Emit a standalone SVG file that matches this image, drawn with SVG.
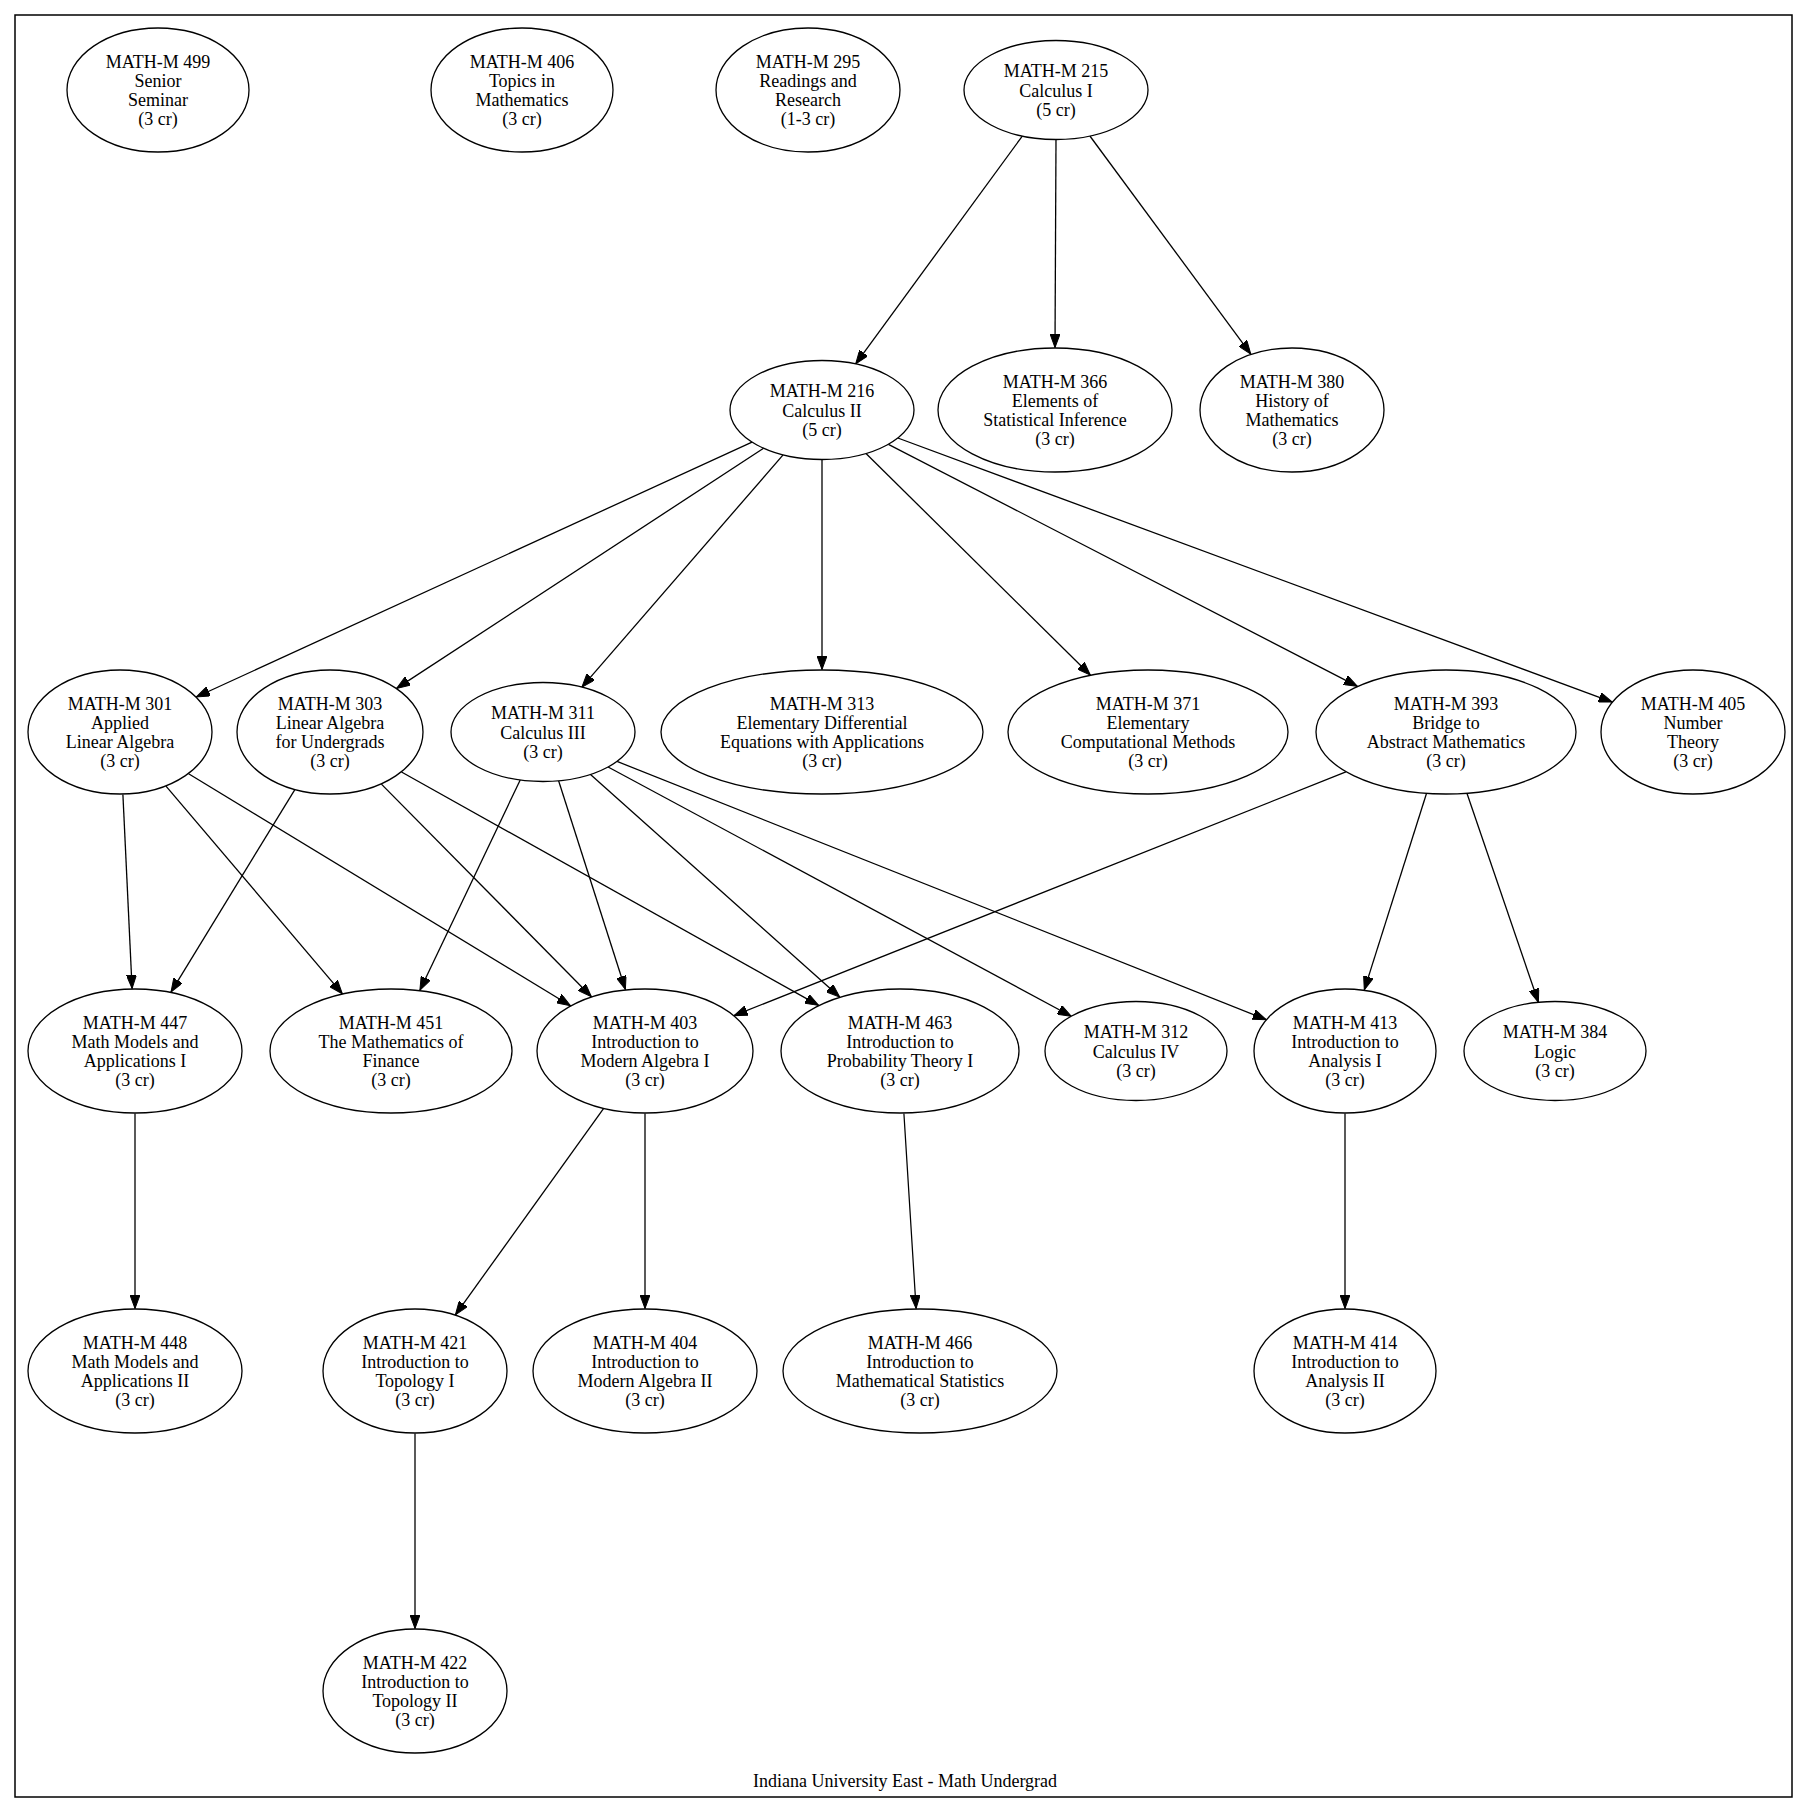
<svg xmlns="http://www.w3.org/2000/svg" width="1812" height="1813" viewBox="0 0 1812 1813">
<style>
.n ellipse{fill:#fff;stroke:#000;stroke-width:1.3}
.n text,.cap{font-family:"Liberation Serif","Times New Roman",serif;font-size:18px;text-anchor:middle;fill:#000}
.e line{stroke:#000;stroke-width:1.3;marker-end:url(#arr)}
</style>
<defs>
<marker id="arr" markerUnits="userSpaceOnUse" viewBox="0 0 14 10" markerWidth="14" markerHeight="10" refX="13.5" refY="5" orient="auto"><path d="M0,0 L13.5,5 L0,10 z" fill="#000" stroke="#000" stroke-width="1"/></marker>
</defs>
<rect width="1812" height="1813" fill="#fff"/>
<rect x="15" y="15" width="1777" height="1782" fill="none" stroke="#000" stroke-width="1.5"/>
<text class="cap" x="905" y="1787">Indiana University East - Math Undergrad</text>
<g class="e" id="edges">
<line x1="1022.3" y1="136.1" x2="855.7" y2="363.9"/>
<line x1="1056" y1="139.5" x2="1055" y2="347.5"/>
<line x1="1089.9" y1="136" x2="1250.8" y2="354.1"/>
<line x1="752" y1="442.1" x2="196.3" y2="697"/>
<line x1="763.6" y1="448.2" x2="396.6" y2="688.4"/>
<line x1="783.1" y1="454.9" x2="581.9" y2="687.1"/>
<line x1="822" y1="459.5" x2="822" y2="669.5"/>
<line x1="866" y1="453.5" x2="1090.3" y2="675"/>
<line x1="888.4" y1="444.3" x2="1357.4" y2="686.3"/>
<line x1="897.8" y1="438" x2="1612.2" y2="702.1"/>
<line x1="122.9" y1="794.5" x2="132.1" y2="988.5"/>
<line x1="166" y1="786.1" x2="342.4" y2="993.8"/>
<line x1="188.6" y1="773.7" x2="570.5" y2="1005.7"/>
<line x1="294.7" y1="789.8" x2="171" y2="992.1"/>
<line x1="381.4" y1="784.1" x2="591.4" y2="996.7"/>
<line x1="401.5" y1="772" x2="818.6" y2="1005.4"/>
<line x1="520.2" y1="780" x2="419.9" y2="990.3"/>
<line x1="558.6" y1="780.8" x2="625.4" y2="989.5"/>
<line x1="590.5" y1="774.4" x2="839.7" y2="997.1"/>
<line x1="608.1" y1="767" x2="1071.3" y2="1016.2"/>
<line x1="617" y1="761.4" x2="1266.3" y2="1019.7"/>
<line x1="1345.9" y1="771.9" x2="734" y2="1015.6"/>
<line x1="1426.4" y1="793.8" x2="1364.3" y2="989.9"/>
<line x1="1467.1" y1="793.7" x2="1538.4" y2="1002.3"/>
<line x1="135" y1="1113.5" x2="135" y2="1308.5"/>
<line x1="603.5" y1="1108.7" x2="455.4" y2="1314.8"/>
<line x1="645" y1="1113.5" x2="645" y2="1308.5"/>
<line x1="903.9" y1="1113.5" x2="916.1" y2="1308.5"/>
<line x1="1345" y1="1113.5" x2="1345" y2="1308.5"/>
<line x1="415" y1="1433.5" x2="415" y2="1628.5"/>
</g>
<g class="n" id="m499"><ellipse cx="158" cy="90" rx="91" ry="62"/><text x="158" y="67.7"><tspan x="158">MATH-M 499</tspan><tspan x="158" dy="19.2">Senior</tspan><tspan x="158" dy="19.2">Seminar</tspan><tspan x="158" dy="19.2">(3 cr)</tspan></text></g>
<g class="n" id="m406"><ellipse cx="522" cy="90" rx="91" ry="62"/><text x="522" y="67.7"><tspan x="522">MATH-M 406</tspan><tspan x="522" dy="19.2">Topics in</tspan><tspan x="522" dy="19.2">Mathematics</tspan><tspan x="522" dy="19.2">(3 cr)</tspan></text></g>
<g class="n" id="m295"><ellipse cx="808" cy="90" rx="92" ry="62"/><text x="808" y="67.7"><tspan x="808">MATH-M 295</tspan><tspan x="808" dy="19.2">Readings and</tspan><tspan x="808" dy="19.2">Research</tspan><tspan x="808" dy="19.2">(1-3 cr)</tspan></text></g>
<g class="n" id="m215"><ellipse cx="1056" cy="90" rx="92" ry="49.5"/><text x="1056" y="77.3"><tspan x="1056">MATH-M 215</tspan><tspan x="1056" dy="19.2">Calculus I</tspan><tspan x="1056" dy="19.2">(5 cr)</tspan></text></g>
<g class="n" id="m216"><ellipse cx="822" cy="410" rx="92" ry="49.5"/><text x="822" y="397.3"><tspan x="822">MATH-M 216</tspan><tspan x="822" dy="19.2">Calculus II</tspan><tspan x="822" dy="19.2">(5 cr)</tspan></text></g>
<g class="n" id="m366"><ellipse cx="1055" cy="410" rx="117" ry="62"/><text x="1055" y="387.7"><tspan x="1055">MATH-M 366</tspan><tspan x="1055" dy="19.2">Elements of</tspan><tspan x="1055" dy="19.2">Statistical Inference</tspan><tspan x="1055" dy="19.2">(3 cr)</tspan></text></g>
<g class="n" id="m380"><ellipse cx="1292" cy="410" rx="92" ry="62"/><text x="1292" y="387.7"><tspan x="1292">MATH-M 380</tspan><tspan x="1292" dy="19.2">History of</tspan><tspan x="1292" dy="19.2">Mathematics</tspan><tspan x="1292" dy="19.2">(3 cr)</tspan></text></g>
<g class="n" id="m301"><ellipse cx="120" cy="732" rx="92" ry="62"/><text x="120" y="709.7"><tspan x="120">MATH-M 301</tspan><tspan x="120" dy="19.2">Applied</tspan><tspan x="120" dy="19.2">Linear Algebra</tspan><tspan x="120" dy="19.2">(3 cr)</tspan></text></g>
<g class="n" id="m303"><ellipse cx="330" cy="732" rx="93" ry="62"/><text x="330" y="709.7"><tspan x="330">MATH-M 303</tspan><tspan x="330" dy="19.2">Linear Algebra</tspan><tspan x="330" dy="19.2">for Undergrads</tspan><tspan x="330" dy="19.2">(3 cr)</tspan></text></g>
<g class="n" id="m311"><ellipse cx="543" cy="732" rx="92" ry="49.5"/><text x="543" y="719.3"><tspan x="543">MATH-M 311</tspan><tspan x="543" dy="19.2">Calculus III</tspan><tspan x="543" dy="19.2">(3 cr)</tspan></text></g>
<g class="n" id="m313"><ellipse cx="822" cy="732" rx="161" ry="62"/><text x="822" y="709.7"><tspan x="822">MATH-M 313</tspan><tspan x="822" dy="19.2">Elementary Differential</tspan><tspan x="822" dy="19.2">Equations with Applications</tspan><tspan x="822" dy="19.2">(3 cr)</tspan></text></g>
<g class="n" id="m371"><ellipse cx="1148" cy="732" rx="140" ry="62"/><text x="1148" y="709.7"><tspan x="1148">MATH-M 371</tspan><tspan x="1148" dy="19.2">Elementary</tspan><tspan x="1148" dy="19.2">Computational Methods</tspan><tspan x="1148" dy="19.2">(3 cr)</tspan></text></g>
<g class="n" id="m393"><ellipse cx="1446" cy="732" rx="130" ry="62"/><text x="1446" y="709.7"><tspan x="1446">MATH-M 393</tspan><tspan x="1446" dy="19.2">Bridge to</tspan><tspan x="1446" dy="19.2">Abstract Mathematics</tspan><tspan x="1446" dy="19.2">(3 cr)</tspan></text></g>
<g class="n" id="m405"><ellipse cx="1693" cy="732" rx="92" ry="62"/><text x="1693" y="709.7"><tspan x="1693">MATH-M 405</tspan><tspan x="1693" dy="19.2">Number</tspan><tspan x="1693" dy="19.2">Theory</tspan><tspan x="1693" dy="19.2">(3 cr)</tspan></text></g>
<g class="n" id="m447"><ellipse cx="135" cy="1051" rx="107" ry="62"/><text x="135" y="1028.7"><tspan x="135">MATH-M 447</tspan><tspan x="135" dy="19.2">Math Models and</tspan><tspan x="135" dy="19.2">Applications I</tspan><tspan x="135" dy="19.2">(3 cr)</tspan></text></g>
<g class="n" id="m451"><ellipse cx="391" cy="1051" rx="121" ry="62"/><text x="391" y="1028.7"><tspan x="391">MATH-M 451</tspan><tspan x="391" dy="19.2">The Mathematics of</tspan><tspan x="391" dy="19.2">Finance</tspan><tspan x="391" dy="19.2">(3 cr)</tspan></text></g>
<g class="n" id="m403"><ellipse cx="645" cy="1051" rx="108" ry="62"/><text x="645" y="1028.7"><tspan x="645">MATH-M 403</tspan><tspan x="645" dy="19.2">Introduction to</tspan><tspan x="645" dy="19.2">Modern Algebra I</tspan><tspan x="645" dy="19.2">(3 cr)</tspan></text></g>
<g class="n" id="m463"><ellipse cx="900" cy="1051" rx="119" ry="62"/><text x="900" y="1028.7"><tspan x="900">MATH-M 463</tspan><tspan x="900" dy="19.2">Introduction to</tspan><tspan x="900" dy="19.2">Probability Theory I</tspan><tspan x="900" dy="19.2">(3 cr)</tspan></text></g>
<g class="n" id="m312"><ellipse cx="1136" cy="1051" rx="91" ry="49.5"/><text x="1136" y="1038.3"><tspan x="1136">MATH-M 312</tspan><tspan x="1136" dy="19.2">Calculus IV</tspan><tspan x="1136" dy="19.2">(3 cr)</tspan></text></g>
<g class="n" id="m413"><ellipse cx="1345" cy="1051" rx="91" ry="62"/><text x="1345" y="1028.7"><tspan x="1345">MATH-M 413</tspan><tspan x="1345" dy="19.2">Introduction to</tspan><tspan x="1345" dy="19.2">Analysis I</tspan><tspan x="1345" dy="19.2">(3 cr)</tspan></text></g>
<g class="n" id="m384"><ellipse cx="1555" cy="1051" rx="91" ry="49.5"/><text x="1555" y="1038.3"><tspan x="1555">MATH-M 384</tspan><tspan x="1555" dy="19.2">Logic</tspan><tspan x="1555" dy="19.2">(3 cr)</tspan></text></g>
<g class="n" id="m448"><ellipse cx="135" cy="1371" rx="107" ry="62"/><text x="135" y="1348.7"><tspan x="135">MATH-M 448</tspan><tspan x="135" dy="19.2">Math Models and</tspan><tspan x="135" dy="19.2">Applications II</tspan><tspan x="135" dy="19.2">(3 cr)</tspan></text></g>
<g class="n" id="m421"><ellipse cx="415" cy="1371" rx="92" ry="62"/><text x="415" y="1348.7"><tspan x="415">MATH-M 421</tspan><tspan x="415" dy="19.2">Introduction to</tspan><tspan x="415" dy="19.2">Topology I</tspan><tspan x="415" dy="19.2">(3 cr)</tspan></text></g>
<g class="n" id="m404"><ellipse cx="645" cy="1371" rx="112" ry="62"/><text x="645" y="1348.7"><tspan x="645">MATH-M 404</tspan><tspan x="645" dy="19.2">Introduction to</tspan><tspan x="645" dy="19.2">Modern Algebra II</tspan><tspan x="645" dy="19.2">(3 cr)</tspan></text></g>
<g class="n" id="m466"><ellipse cx="920" cy="1371" rx="137" ry="62"/><text x="920" y="1348.7"><tspan x="920">MATH-M 466</tspan><tspan x="920" dy="19.2">Introduction to</tspan><tspan x="920" dy="19.2">Mathematical Statistics</tspan><tspan x="920" dy="19.2">(3 cr)</tspan></text></g>
<g class="n" id="m414"><ellipse cx="1345" cy="1371" rx="91" ry="62"/><text x="1345" y="1348.7"><tspan x="1345">MATH-M 414</tspan><tspan x="1345" dy="19.2">Introduction to</tspan><tspan x="1345" dy="19.2">Analysis II</tspan><tspan x="1345" dy="19.2">(3 cr)</tspan></text></g>
<g class="n" id="m422"><ellipse cx="415" cy="1691" rx="92" ry="62"/><text x="415" y="1668.7"><tspan x="415">MATH-M 422</tspan><tspan x="415" dy="19.2">Introduction to</tspan><tspan x="415" dy="19.2">Topology II</tspan><tspan x="415" dy="19.2">(3 cr)</tspan></text></g>
</svg>
